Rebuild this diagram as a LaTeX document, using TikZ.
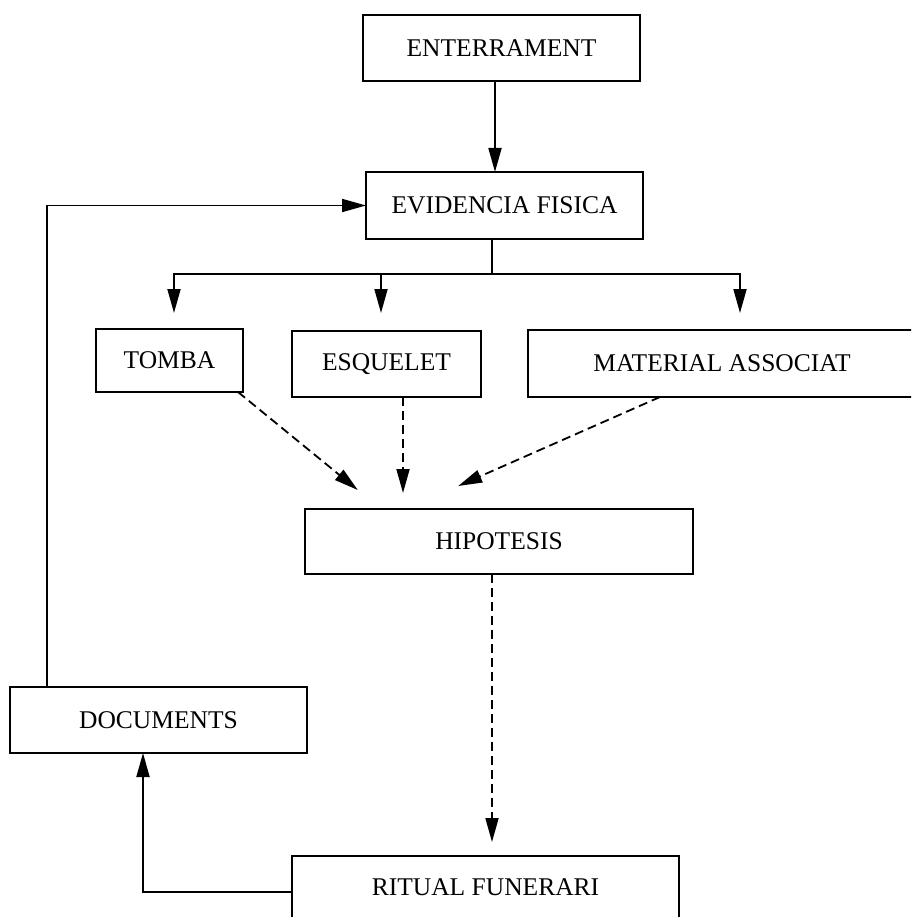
\documentclass[tikz,border=0pt]{standalone}
\usepackage{fontspec}
\setmainfont{Liberation Serif}
\usetikzlibrary{arrows.meta}
\tikzset{
  box/.style={draw, line width=1.8pt, inner sep=0pt, outer sep=0pt, font=\fontsize{25.5}{30}\selectfont},
  arr/.style={line width=1.8pt, -{Triangle[length=24pt,width=13pt]}},
  darr/.style={arr, dash pattern=on 9pt off 5pt},
  plain/.style={line width=1.8pt}
}
\begin{document}
\begin{tikzpicture}[x=1pt,y=-1pt]
\clip (0,0) rectangle (911,917);
\fill[white] (0,0) rectangle (911,917);
\node[box, minimum width=277pt, minimum height=66pt] (ent) at (501.5,48) {ENTERRAMENT};
\node[box, minimum width=277pt, minimum height=67pt] (evi) at (504.5,205.5) {EVIDENCIA FISICA};
\node[box, minimum width=147pt, minimum height=63pt] (tomba) at (169.5,360.5) {TOMBA};
\node[box, minimum width=189pt, minimum height=66pt] (esq) at (386.5,364) {ESQUELET};
\node[box, minimum width=388pt, minimum height=67pt] (mat) at (722,363.5) {MATERIAL ASSOCIAT};
\node[box, minimum width=388pt, minimum height=65pt] (hip) at (499,541.5) {HIPOTESIS};
\node[box, minimum width=297pt, minimum height=66pt] (doc) at (158.5,720) {DOCUMENTS};
\node[box, minimum width=387pt, minimum height=62pt] (rit) at (485.5,887) {RITUAL FUNERARI};
\coordinate (br) at (492,274);
% solid arrows
\draw[arr] ([xshift=-6.5pt]ent.south) -- ([xshift=-9.5pt]evi.north);
\draw[plain] ([xshift=-12.5pt]evi.south) -- (br);
\draw[arr, shorten >=16pt] (br) -| ([xshift=4.5pt]tomba.north);
\draw[arr, shorten >=17pt] (br) -| ([xshift=18pt]mat.north);
\draw[arr, shorten >=18pt] ([xshift=-5.5pt]esq.north |- br) -- ([xshift=-5.5pt]esq.north);
% dashed arrows
\draw[darr, shorten >=30pt] ([xshift=-5pt]tomba.south east) -- ([xshift=-118pt]hip.north);
\draw[darr, shorten >=16pt] ([xshift=16.5pt]esq.south) -- ([xshift=16.5pt]esq.south |- hip.north);
\draw[darr, shorten >=57pt] ([xshift=-62pt]mat.south) -- ([xshift=-93pt]hip.north);
\draw[darr, shorten >=14pt] ([xshift=-7pt]hip.south) -- ([xshift=-7pt]hip.south |- rit.north);
% feedback
\draw[arr] ([yshift=-5pt]rit.west) -| ([xshift=-15.5pt]doc.south);
\draw[arr] ([xshift=-111.5pt]doc.north) |- (evi.west);
\end{tikzpicture}
\end{document}
